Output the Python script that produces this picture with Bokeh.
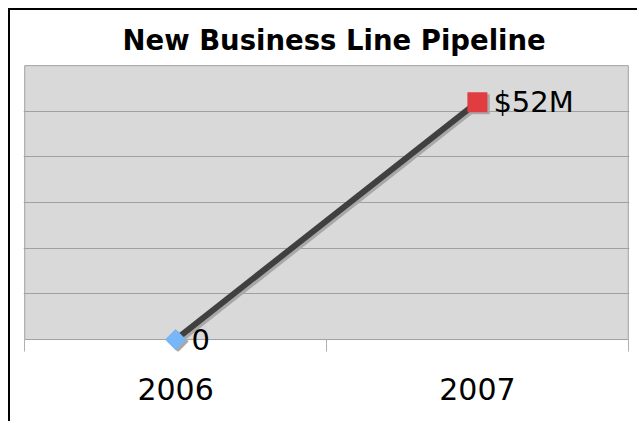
from bokeh.plotting import figure
from bokeh.models import ColumnDataSource, FixedTicker, Range1d, LabelSet
from bokeh.core.properties import value
from bokeh.transform import dodge
from bokeh.embed import file_html
from bokeh.resources import INLINE
import numpy as np

years = ["2006", "2007"]
values = [0, 52]
labels = ["0", "$52M"]
marker_colors = ["#77b6f7", "#e13c3f"]
y_max = 60
y_step = 10

n = len(years)
xpos = [i + 0.5 for i in range(n)]
src = ColumnDataSource(dict(x=xpos, y=values, lab=labels, col=marker_colors,
                            mk=["square", "square"], ang=[np.pi / 4, 0.0],
                            sz=[15, 20]))

# frame extends a little beyond the plot area so markers at 0 are not clipped
pad_x = 0.004
pad_top = 0.25
pad_bottom = 2.62
p = figure(width=629, height=413, output_backend="svg", toolbar_location=None,
           x_range=Range1d(-pad_x, n + pad_x),
           y_range=Range1d(-pad_bottom, y_max + pad_top),
           min_border_left=13, min_border_right=10, min_border_top=54,
           min_border_bottom=72)
p.styles = {"border-left": "2px solid black", "border-top": "2px solid black",
            "margin-left": "8px", "margin-top": "8px"}

p.title.text = "New Business Line Pipeline"
p.title.text_font = "DejaVu Sans"
p.title.text_font_style = "bold"
p.title.text_font_size = "27.5px"
p.title.text_color = "black"
p.title.align = "left"
p.title.offset = 99
p.title.standoff = 18

p.background_fill_color = "white"
p.border_fill_color = "white"
p.outline_line_color = None

# plot area
p.quad(left=[0], right=[n], bottom=[0], top=[y_max], fill_color="#d9d9d9",
       line_color="#a0a0a0", line_width=1, level="image")

p.yaxis.visible = False
p.xgrid.grid_line_color = None
p.ygrid.ticker = FixedTicker(ticks=list(range(y_step, y_max, y_step)))
p.ygrid.grid_line_color = "#a0a0a0"
p.ygrid.grid_line_width = 1

ax = p.xaxis[0]
ax.ticker = FixedTicker(ticks=xpos, minor_ticks=list(range(n + 1)))
ax.major_label_overrides = {x: y for x, y in zip(xpos, years)}
ax.major_tick_line_color = None
ax.major_tick_out = 0
ax.major_tick_in = 0
ax.minor_tick_line_color = "#b0b0b0"
ax.minor_tick_out = 0
ax.minor_tick_in = 12
ax.axis_line_color = None
ax.major_label_text_font = "DejaVu Sans"
ax.major_label_text_font_size = "30px"
ax.major_label_text_color = "black"
ax.major_label_standoff = 26

# shadow
p.line(x=dodge("x", 0.008), y=dodge("y", -0.45), source=src,
       line_color="#a8a8a8", line_width=6)
p.scatter(x=dodge("x", 0.008), y=dodge("y", -0.45), source=src, marker="mk",
          size="sz", angle="ang", fill_color="#a8a8a8", line_color=None)
p.line(x="x", y="y", source=src, line_color="#404040", line_width=6)
p.scatter(x="x", y="y", source=src, marker="mk", size="sz", angle="ang",
          fill_color="col", line_color=None)

p.add_layout(LabelSet(x="x", y="y", text="lab", source=src, x_offset=16,
                      text_baseline="middle", text_font=value("DejaVu Sans"),
                      text_font_size=value("29px"), text_color="black"))

open("out.html", "w").write(file_html(p, INLINE))
